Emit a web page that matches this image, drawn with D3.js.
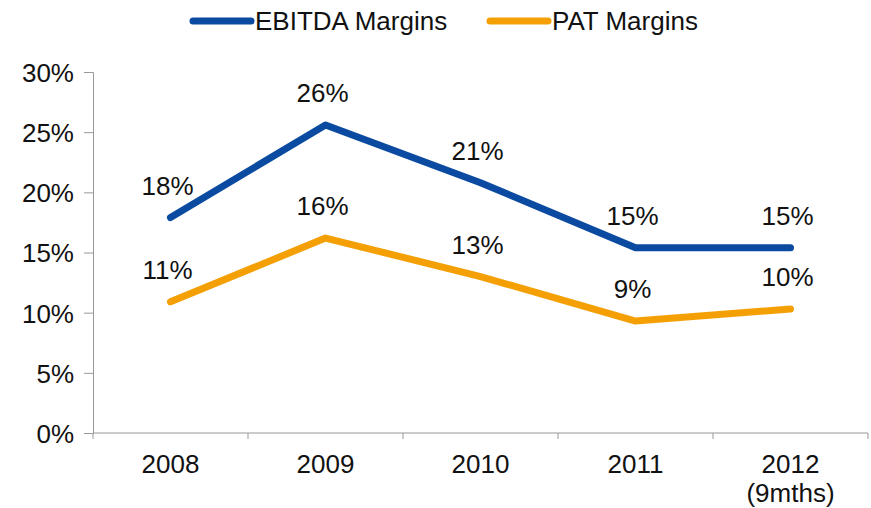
<!DOCTYPE html>
<html>
<head>
<meta charset="utf-8">
<script src="https://cdn.jsdelivr.net/npm/d3@7"></script>
<style>
  body { margin: 0; background: #fff; }
  text { font-family: "Liberation Sans", Arial, sans-serif; fill: #111; }
</style>
</head>
<body>
<svg width="871" height="508"></svg>
<script>
var years = ["2008", "2009", "2010", "2011", "2012"];
var yearNotes = ["", "", "", "", "(9mths)"];
var ebitda = [17.9, 25.6, 20.8, 15.4, 15.4];
var pat = [10.9, 16.2, 13.0, 9.3, 10.3];
var ebitdaLabels = ["18%", "26%", "21%", "15%", "15%"];
var patLabels = ["11%", "16%", "13%", "9%", "10%"];
var yTicks = [0, 5, 10, 15, 20, 25, 30];

var svg = d3.select("svg"),
    plotLeft = 93, plotRight = 868, plotTop = 72, plotBottom = 433;

var x = d3.scaleBand().domain(years).range([plotLeft, plotRight]);
var y = d3.scaleLinear().domain([0, 30]).range([plotBottom, plotTop]);

var series = [
  { name: "EBITDA Margins", values: ebitda, labels: ebitdaLabels, color: "#0a4aa0" },
  { name: "PAT Margins", values: pat, labels: patLabels, color: "#f4a005" }
];

// y axis
var yAxis = svg.append("g")
    .attr("transform", "translate(" + plotLeft + ",0)")
    .call(d3.axisLeft(y).tickValues(yTicks).tickSize(9).tickPadding(10)
      .tickFormat(function(d) { return d + "%"; }));
yAxis.selectAll("path, line").attr("stroke", "#999");
yAxis.selectAll("text").style("font-size", "26px").attr("fill", "#111").attr("dy", "0.36em");

// x axis with ticks between categories
var xAxis = svg.append("g")
    .attr("transform", "translate(0," + plotBottom + ")");
xAxis.append("line")
    .attr("x1", plotLeft).attr("x2", plotRight)
    .attr("stroke", "#999");
xAxis.selectAll("line.tick")
    .data(years.concat([null]))
    .enter().append("line")
      .attr("class", "tick")
      .attr("x1", function(d, i) { return plotLeft + i * x.bandwidth(); })
      .attr("x2", function(d, i) { return plotLeft + i * x.bandwidth(); })
      .attr("y1", 0).attr("y2", 6)
      .attr("stroke", "#999");
xAxis.selectAll("text.year")
    .data(years)
    .enter().append("text")
      .attr("class", "year")
      .attr("x", function(d) { return x(d) + x.bandwidth() / 2; })
      .attr("y", 40)
      .attr("text-anchor", "middle")
      .style("font-size", "26px")
      .text(function(d) { return d; });
xAxis.selectAll("text.note")
    .data(yearNotes)
    .enter().append("text")
      .attr("class", "note")
      .attr("x", function(d, i) { return x(years[i]) + x.bandwidth() / 2; })
      .attr("y", 69)
      .attr("text-anchor", "middle")
      .style("font-size", "26px")
      .text(function(d) { return d; });

var line = d3.line()
    .x(function(d, i) { return x(years[i]) + x.bandwidth() / 2; })
    .y(function(d) { return y(d); });

series.forEach(function(s) {
  svg.append("path")
      .datum(s.values)
      .attr("d", line)
      .attr("fill", "none")
      .attr("stroke", s.color)
      .attr("stroke-width", 7)
      .attr("stroke-linecap", "round")
      .attr("stroke-linejoin", "round");

  svg.append("g").selectAll("text")
      .data(s.values)
      .enter().append("text")
        .attr("x", function(d, i) { return x(years[i]) + x.bandwidth() / 2 - 3; })
        .attr("y", function(d) { return y(d) - 23; })
        .attr("text-anchor", "middle")
        .style("font-size", "26px")
        .text(function(d, i) { return s.labels[i]; });
});

// legend
var legendX = [193, 490];
var legend = svg.append("g").selectAll("g")
    .data(series)
    .enter().append("g")
      .attr("transform", function(d, i) { return "translate(" + legendX[i] + ",21)"; });
legend.append("line")
    .attr("x1", 0).attr("x2", 58)
    .attr("stroke", function(d) { return d.color; })
    .attr("stroke-width", 7)
    .attr("stroke-linecap", "round");
legend.append("text")
    .attr("x", 62)
    .attr("dy", "0.36em")
    .style("font-size", "26px")
    .text(function(d) { return d.name; });
</script>
</body>
</html>
